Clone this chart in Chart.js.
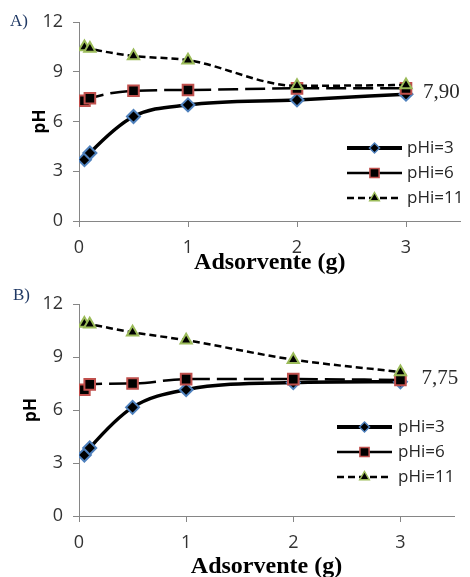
<!DOCTYPE html>
<html><head><meta charset="utf-8">
<script src="https://cdn.jsdelivr.net/npm/chart.js@4"></script>
<style>
html,body{margin:0;padding:0;background:#fff;overflow:hidden;width:470px;height:577px;}
.wrap{position:absolute;left:0;width:470px;}
</style></head><body>
<div class="wrap" style="top:0;height:288px"><canvas id="ca"></canvas></div>
<div class="wrap" style="top:285px;height:294px"><canvas id="cb"></canvas></div>
<script>
// ---- data ----
const xValues = [0.05, 0.1, 0.5, 1, 2, 3];
const seriesNames = ['pHi=3', 'pHi=6', 'pHi=11'];
const a_pHi3  = [3.7, 4.1, 6.3, 7.0, 7.3, 7.65];
const a_pHi6  = [7.25, 7.4, 7.85, 7.9, 8.0, 8.0];
const a_pHi11 = [10.5, 10.4, 9.95, 9.7, 8.15, 8.2];
const b_pHi3  = [3.45, 3.85, 6.15, 7.15, 7.55, 7.6];
const b_pHi6  = [7.15, 7.45, 7.5, 7.75, 7.75, 7.7];
const b_pHi11 = [10.9, 10.85, 10.4, 9.95, 8.85, 8.15];
const xTicks = [0, 1, 2, 3];
const yTicks = [0, 3, 6, 9, 12];
const panelLabels = ['A)', 'B)'];
const finalLabels = ['7,90', '7,75'];
const finalValues = [7.9, 7.75];
const xTitle = 'Adsorvente (g)';
const yTitle = 'pH';

// ---- styles ----
const styles = [
  {borderColor:'#000', borderWidth:3.5, borderDash:[], pointStyle:'rectRot', pointRadius:6.5,
   pointBorderColor:'#4F81BD', legendDash:[], legendWidth:4, legendRadius:5, order:2},
  {borderColor:'#000', borderWidth:2.5, borderDash:[20,7], pointStyle:'rect', pointRadius:7.5,
   pointBorderColor:'#C0504D', legendDash:[], legendWidth:2.5, legendRadius:6.5, order:1},
  {borderColor:'#000', borderWidth:2.5, borderDash:[7,4], pointStyle:'triangle', pointRadius:6.5,
   pointBorderColor:'#9BBB59', legendDash:[7,4], legendWidth:2.5, legendRadius:5.5, order:0}
];

function makeDatasets(arrs){
  return arrs.map((vals, i) => Object.assign({
    label: seriesNames[i],
    data: xValues.map((x, j) => ({x: x, y: vals[j]})),
    pointBackgroundColor:'#000', pointBorderWidth:2, pointHoverRadius:6,
    fill:false, cubicInterpolationMode:'monotone', tension:0.4
  }, styles[i]));
}

function drawMarker(ctx, style, x, y, r){
  ctx.beginPath();
  if (style === 'rectRot'){
    ctx.moveTo(x, y - r); ctx.lineTo(x + r, y); ctx.lineTo(x, y + r); ctx.lineTo(x - r, y);
  } else if (style === 'rect'){
    const s = r * Math.SQRT1_2; ctx.rect(x - s, y - s, 2*s, 2*s);
  } else {
    ctx.moveTo(x, y - r); ctx.lineTo(x + r*0.866, y + r*0.5); ctx.lineTo(x - r*0.866, y + r*0.5);
  }
  ctx.closePath(); ctx.fill(); ctx.stroke();
}

const overlay = {
  id: 'overlay',
  afterDraw(chart, args, opts){
    const ctx = chart.ctx;
    ctx.save();
    const L = opts.legend;
    chart.data.datasets.forEach((ds, i) => {
      const y = L.rows[i];
      ctx.beginPath();
      ctx.setLineDash(ds.legendDash);
      ctx.lineWidth = ds.legendWidth;
      ctx.strokeStyle = ds.borderColor;
      ctx.moveTo(L.x0, y); ctx.lineTo(L.x1, y); ctx.stroke();
      ctx.setLineDash([]);
      ctx.fillStyle = '#000'; ctx.strokeStyle = ds.pointBorderColor; ctx.lineWidth = 1.5;
      drawMarker(ctx, ds.pointStyle, (L.x0 + L.x1)/2, y, ds.legendRadius);
      ctx.fillStyle = '#262626';
      ctx.font = '17px "Open Sans"';
      ctx.textBaseline = 'middle'; ctx.textAlign = 'left';
      ctx.fillText(ds.label, L.tx, y);
    });
    // final value note
    const xs = chart.scales.x, ys = chart.scales.y;
    ctx.font = '21px "Liberation Serif"';
    ctx.fillStyle = '#2a2a2a';
    ctx.fillText(opts.note.text, xs.getPixelForValue(3) + opts.note.dx, ys.getPixelForValue(opts.note.value) + opts.note.dy);
    // panel label
    ctx.font = '17px "Liberation Serif"';
    ctx.fillStyle = '#1F3864';
    ctx.fillText(opts.panel.text, opts.panel.x, opts.panel.y);
    ctx.restore();
  }
};

function makeChart(id, arrs, cfg){
  return new Chart(document.getElementById(id), {
    type:'line',
    data:{datasets: makeDatasets(arrs)},
    options:{
      responsive:true, maintainAspectRatio:false, animation:false,
      layout:{padding:{left:0, top:cfg.padTop, right:cfg.padRight, bottom:0}},
      plugins:{legend:{display:false}, tooltip:{enabled:false},
        overlay:{legend:cfg.legend, note:cfg.note, panel:cfg.panel}},
      scales:{
        x:{type:'linear', min:0, max:3.5,
          afterBuildTicks: s => { s.ticks = xTicks.map(v => ({value:v})); },
          afterFit: s => { s.height = cfg.xH; },
          grid:{drawOnChartArea:false, drawTicks:true, tickLength:6, color:'#868686'},
          border:{color:'#868686', width:1},
          ticks:{padding:12, color:'#333', font:{family:'Open Sans', size:18, lineHeight:1}},
          title:{display:true, text:xTitle, color:'#000',
            font:{family:'Liberation Serif', size:24, weight:'bold', lineHeight:1},
            padding:{top:0, bottom:cfg.xTitlePad}}
        },
        y:{type:'linear', min:0, max:12,
          afterBuildTicks: s => { s.ticks = yTicks.map(v => ({value:v})); },
          afterFit: s => { s.width = 79; },
          grid:{drawOnChartArea:false, drawTicks:true, tickLength:6, color:'#868686'},
          border:{color:'#868686', width:1},
          ticks:{padding:10, color:'#333', font:{family:'Open Sans', size:18, lineHeight:1}},
          title:{display:true, text:yTitle, color:'#000',
            font:{family:'Open Sans', size:17, weight:'bold', lineHeight:1},
            padding:{top:cfg.yTitlePad, bottom:0}}
        }
      }
    },
    plugins:[overlay]
  });
}

makeChart('ca', [a_pHi3, a_pHi6, a_pHi11], {
  padTop:22, padRight:1, xH:67, xTitlePad:13, yTitlePad:31.5,
  legend:{x0:347, x1:402, tx:407, rows:[148, 173, 198]},
  note:{text:finalLabels[0], value:finalValues[0], dx:17, dy:2},
  panel:{text:panelLabels[0], x:10, y:22}
});
makeChart('cb', [b_pHi3, b_pHi6, b_pHi11], {
  padTop:10, padRight:16, xH:63, xTitlePad:0, yTitlePad:22.5,
  legend:{x0:337, x1:392, tx:398, rows:[142, 167, 192]},
  note:{text:finalLabels[1], value:finalValues[1], dx:21, dy:-1},
  panel:{text:panelLabels[1], x:13, y:11}
});
</script>
</body></html>
